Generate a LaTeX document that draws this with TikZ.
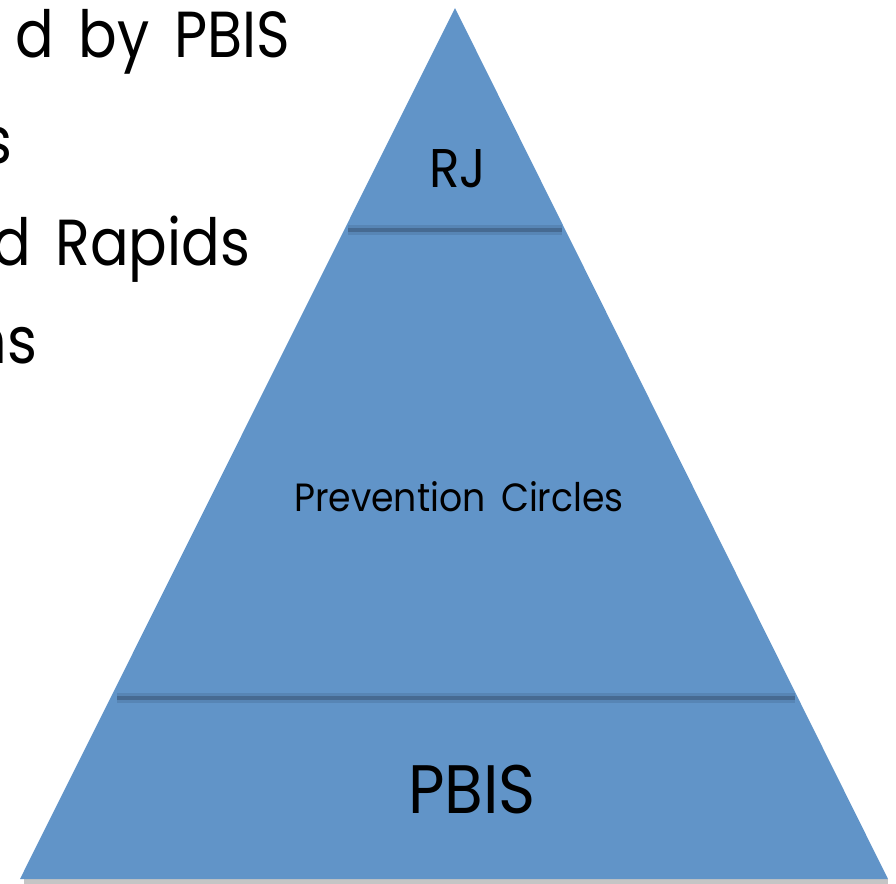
\documentclass[tikz,border=0pt]{standalone}
\usepackage{fontspec}
\setmainfont{Poppins}[FakeStretch=0.92,WordSpace=1.6]
\newfontfamily\slidefont{Poppins}[FakeStretch=0.88,WordSpace=1.6]
\definecolor{tierblue}{RGB}{97,148,200}
\definecolor{seamblue}{RGB}{70,106,146}
\tikzset{
  tier/.style={fill=tierblue,draw=none},
  seamglow/.style={draw=seamblue,line width=2.6pt,opacity=0.35},
  seam/.style={draw=seamblue,line width=1.2pt},
  bullet/.style={anchor=base east,inner sep=0pt,font=\slidefont\fontsize{18.5}{18.5}\selectfont},
  label/.style={inner sep=0pt,text=black}
}
\begin{document}
\begin{tikzpicture}[x=0.01cm,y=-0.01cm]
  \useasboundingbox (0,0) rectangle (896,884);
  % pyramid
  \coordinate (apex) at (455,8);
  \coordinate (bl) at (20,879);
  \coordinate (br) at (888,879);
  \fill[black!45,opacity=0.5] (24,879) rectangle (888,884);
  \fill[tier] (apex) -- (br) -- (bl) -- cycle;
  \coordinate (t1) at (348,230);
  \coordinate (t2) at (562,230);
  \coordinate (b1) at (117,698);
  \coordinate (b2) at (795,698);
  \begin{scope}
    \draw[seamglow] (t1) to (t2);
    \draw[seamglow] (b1) to (b2);
    \draw[seam] (t1) to (t2);
    \draw[seam] (b1) to (b2);
  \end{scope}
  % tier labels
  \node[label,font=\fontsize{15.5}{15.5}\selectfont] (rj) at (458,169) {RJ};
  \node[label,font=\fontsize{11.2}{11.2}\selectfont] (prev) at (459,497) {Prevention Circles};
  \node[label,font=\fontsize{19.5}{19.5}\selectfont] (pbis) at (472,790) {PBIS};
  % cut-off text at the left
  \node[bullet] (l1) at (291,57) {d by PBIS};
  \node[bullet] (l2) at (13,163) {s};
  \node[bullet] (l3) at (251,265) {nd Rapids};
  \node[bullet] (l4) at (38,363) {ns};
\end{tikzpicture}
\end{document}
